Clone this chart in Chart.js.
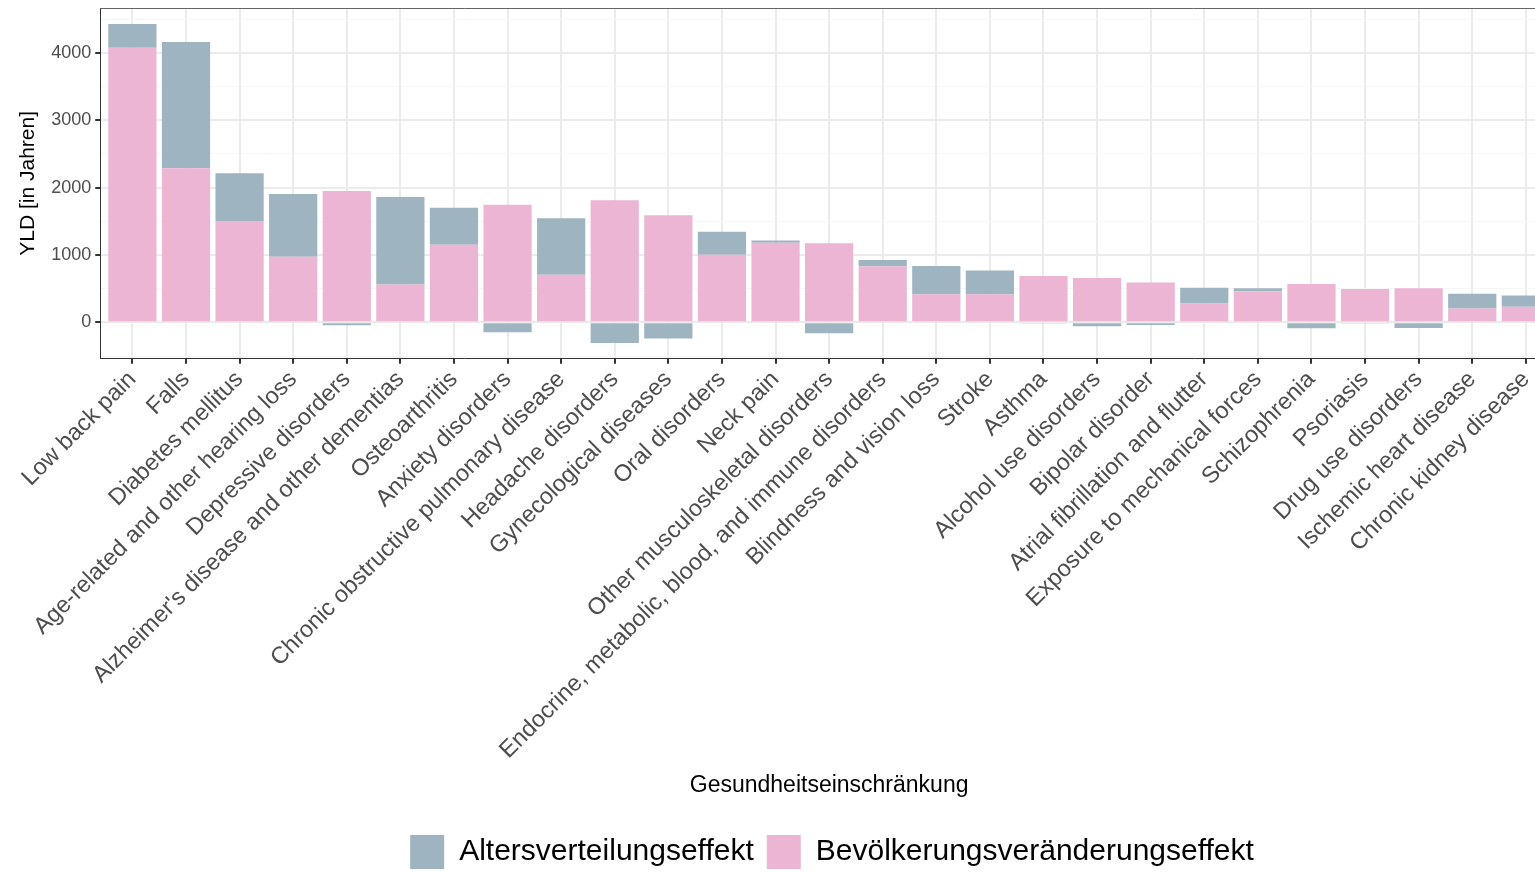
<!DOCTYPE html>
<html>
<head>
<meta charset="utf-8">
<script src="https://cdn.jsdelivr.net/npm/chart.js@4.4.1/dist/chart.umd.min.js"></script>
<style>
  html, body { margin: 0; padding: 0; background: #fff; overflow: hidden; }
  #wrap { width: 1558px; height: 936px; margin-top: -54px; position: relative; }
</style>
</head>
<body>
<div id="wrap"><canvas id="yldChart"></canvas></div>
<script>
// categories, left to right
const categories = [
  'Low back pain', 'Falls', 'Diabetes mellitus', 'Age-related and other hearing loss',
  'Depressive disorders', "Alzheimer's disease and other dementias", 'Osteoarthritis',
  'Anxiety disorders', 'Chronic obstructive pulmonary disease', 'Headache disorders',
  'Gynecological diseases', 'Oral disorders', 'Neck pain', 'Other musculoskeletal disorders',
  'Endocrine, metabolic, blood, and immune disorders', 'Blindness and vision loss', 'Stroke',
  'Asthma', 'Alcohol use disorders', 'Bipolar disorder', 'Atrial fibrillation and flutter',
  'Exposure to mechanical forces', 'Schizophrenia', 'Psoriasis', 'Drug use disorders',
  'Ischemic heart disease', 'Chronic kidney disease'
];

// YLD values
const bevoelkerungseffekt = [4074, 2288, 1506, 974, 1948, 561, 1151, 1746, 708, 1811, 1589, 1004, 1181, 1174, 831, 418, 418, 689, 659, 592, 280, 463, 571, 497, 507, 207, 231];
const altersverteilungseffekt = [354, 1874, 708, 930, -42, 1299, 551, -148, 837, -305, -241, 339, 34, -162, 94, 418, 350, -15, -59, -39, 232, 44, -89, -15, -84, 216, 167];

// y gridlines: labelled every 1000, minor lines in between
const yTicks = [-500, 0, 500, 1000, 1500, 2000, 2500, 3000, 3500, 4000, 4500];
const yLabelled = [0, 1000, 2000, 3000, 4000];

const pink = '#ebb5d3';
const grey = '#9eb4c1';

Chart.defaults.font.family = '"Liberation Sans", Arial, sans-serif';

function isMajor(ctx) {
  return ctx.tick && yLabelled.includes(ctx.tick.value);
}

// ggplot style panel border on top
const panelBorder = {
  id: 'panelBorder',
  afterDraw(chart) {
    const { ctx, chartArea } = chart;
    ctx.save();
    ctx.strokeStyle = '#666';
    ctx.lineWidth = 1;
    ctx.beginPath();
    ctx.moveTo(chartArea.left, chartArea.top + 0.5);
    ctx.lineTo(chartArea.right, chartArea.top + 0.5);
    ctx.stroke();
    ctx.restore();
  }
};

// legend sits centred under the panel, not the canvas
const legendShift = {
  id: 'legendShift',
  afterLayout(chart) {
    chart.legend.left += 45;
    chart.legend.right += 45;
  }
};

const ctx = document.getElementById('yldChart').getContext('2d');
const yldChart = new Chart(ctx, {
  type: 'bar',
  data: {
    labels: categories,
    datasets: [
      {
        label: 'Bevölkerungsveränderungseffekt',
        data: bevoelkerungseffekt,
        backgroundColor: pink,
        borderWidth: 0,
        barPercentage: 0.9,
        categoryPercentage: 1
      },
      {
        label: 'Altersverteilungseffekt',
        data: altersverteilungseffekt,
        backgroundColor: grey,
        borderWidth: 0,
        barPercentage: 0.9,
        categoryPercentage: 1
      }
    ]
  },
  options: {
    responsive: true,
    maintainAspectRatio: false,
    animation: false,
    layout: { padding: { top: 2, left: 16, right: 0, bottom: 3 } },
    plugins: {
      tooltip: { enabled: false },
      // empty spacer above the panel (scrolled out of view) so the tall x axis is not capped
      title: {
        display: true,
        text: ' ',
        font: { size: 20, lineHeight: 1 },
        padding: { top: 20, bottom: 20 }
      },
      legend: {
        position: 'bottom',
        reverse: true,
        labels: {
          boxWidth: 34,
          boxHeight: 34,
          padding: 13,
          color: '#000',
          font: { size: 30 }
        }
      }
    },
    scales: {
      x: {
        stacked: true,
        // ggplot pads a discrete axis by 0.6 of a category on each side
        beforeCalculateLabelRotation: scale => {
          scale._startValue = -0.6;
          scale._valueRange = categories.length - 1 + 1.2;
        },
        grid: {
          offset: false,
          color: '#ebebeb',
          lineWidth: 2,
          tickLength: 5,
          tickColor: '#333'
        },
        border: { color: '#333', width: 1 },
        ticks: {
          autoSkip: false,
          minRotation: 45,
          maxRotation: 45,
          padding: 2,
          color: '#4d4d4d',
          font: { size: 23.5 }
        },
        title: {
          display: true,
          text: 'Gesundheitseinschränkung',
          color: '#000',
          font: { size: 23 },
          padding: { top: 5, bottom: 23 }
        }
      },
      y: {
        stacked: true,
        min: -540,
        max: 4665,
        afterBuildTicks: scale => {
          scale.ticks = yTicks.map(v => ({ value: v }));
        },
        grid: {
          color: c => isMajor(c) ? '#ebebeb' : '#f6f6f6',
          lineWidth: c => isMajor(c) ? 2 : 1,
          tickLength: 5,
          tickColor: c => isMajor(c) ? '#333' : 'rgba(0,0,0,0)'
        },
        border: { color: '#333', width: 1 },
        ticks: {
          padding: 4,
          color: '#4d4d4d',
          font: { size: 18 },
          callback: v => yLabelled.includes(v) ? String(v) : ''
        },
        title: {
          display: true,
          text: 'YLD [in Jahren]',
          color: '#000',
          font: { size: 21 },
          padding: { top: 0, bottom: 6 }
        }
      }
    }
  },
  plugins: [panelBorder, legendShift]
});
</script>
</body>
</html>
